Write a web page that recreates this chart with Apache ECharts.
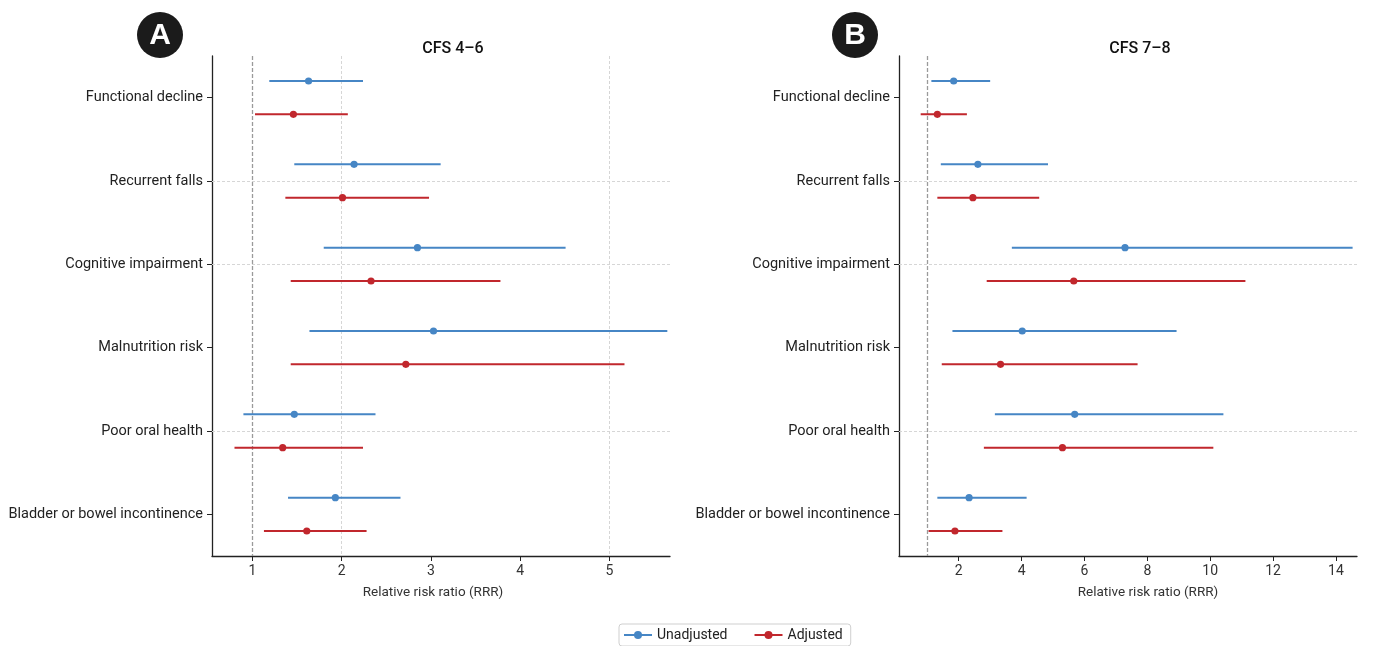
<!DOCTYPE html>
<html>
<head>
<meta charset="utf-8">
<script src="https://cdn.jsdelivr.net/npm/echarts@6/dist/echarts.min.js"></script>
<style>
html,body{margin:0;padding:0;background:#fff;}
#chart{width:1379px;height:646px;}
</style>
</head>
<body>
<div id="chart"></div>
<script>
// ---------- data ----------
const categories = ['Functional decline','Recurrent falls','Cognitive impairment','Malnutrition risk','Poor oral health','Bladder or bowel incontinence'];

// Panel A : CFS 4-6  [point, lower, upper]
const A_unadj = [[1.63,1.19,2.24],[2.14,1.47,3.11],[2.85,1.80,4.51],[3.03,1.64,5.65],[1.47,0.90,2.38],[1.93,1.40,2.66]];
const A_adj   = [[1.46,1.03,2.07],[2.01,1.37,2.98],[2.33,1.43,3.78],[2.72,1.43,5.17],[1.34,0.80,2.24],[1.61,1.13,2.28]];
// Panel B : CFS 7-8
const B_unadj = [[1.84,1.13,3.00],[2.61,1.43,4.84],[7.29,3.69,14.53],[4.02,1.80,8.93],[5.69,3.15,10.42],[2.33,1.32,4.16]];
const B_adj   = [[1.32,0.79,2.26],[2.45,1.32,4.56],[5.66,2.89,11.12],[3.33,1.46,7.69],[5.30,2.80,10.10],[1.88,1.04,3.39]];

const A_ticks = [1,2,3,4,5];
const B_ticks = [2,4,6,8,10,12,14];
const A_gridX = [2,5];
const B_gridX = [];
const gridRows = ['Recurrent falls','Cognitive impairment','Poor oral health'];
const refValue = 1;

// ---------- style ----------
const BLUE = '#4686c5';
const RED  = '#c1272d';
const FONT = "Roboto,sans-serif";

const chart = echarts.init(document.getElementById('chart'));

function toRows(arr){ return arr.map((d,i)=>[i,d[1],d[2],d[0]]); }

function ciSeries(name, color, data, axisIdx, shift){
  return {
    type:'custom', name:name, xAxisIndex:axisIdx, yAxisIndex:axisIdx,
    data:toRows(data),
    encode:{x:[1,2,3], y:0},
    z:5,
    renderItem:function(params, api){
      const cat = api.value(0);
      const p1 = api.coord([api.value(1), cat]);
      const p2 = api.coord([api.value(2), cat]);
      const pc = api.coord([api.value(3), cat]);
      const off = api.size([0,1])[1]*shift;
      return {type:'group', children:[
        {type:'line', shape:{x1:p1[0],y1:p1[1]+off,x2:p2[0],y2:p2[1]+off}, style:{stroke:color, lineWidth:2}},
        {type:'circle', shape:{cx:pc[0],cy:pc[1]+off,r:3.6}, style:{fill:color}}
      ]};
    }
  };
}

function legendSeries(name,color){
  return {type:'line', name:name, data:[], xAxisIndex:0, yAxisIndex:0, symbol:'circle', symbolSize:6,
    itemStyle:{color:color}, lineStyle:{color:color, width:2}};
}

function gridSeries(axisIdx, gx){
  const d = [];
  gx.forEach(v=>d.push({xAxis:v}));
  gridRows.forEach(r=>d.push({yAxis:r}));
  return {type:'custom', name:'grid'+axisIdx, xAxisIndex:axisIdx, yAxisIndex:axisIdx, data:[], renderItem:()=>null,
    silent:true, z:1,
    markLine:{silent:true, symbol:'none', label:{show:false}, animation:false,
      lineStyle:{color:'#d6d6d6', type:[3,2], width:1}, data:d}};
}
function refSeries(axisIdx){
  return {type:'custom', name:'ref'+axisIdx, xAxisIndex:axisIdx, yAxisIndex:axisIdx, data:[], renderItem:()=>null,
    silent:true, z:2,
    markLine:{silent:true, symbol:'none', label:{show:false}, animation:false,
      lineStyle:{color:'#9a9a9a', type:[4,2], width:1.3}, data:[{xAxis:refValue}]}};
}

function xAxisCfg(idx, min, max, ticks, namePad){
  return {
    type:'value', gridIndex:idx, min:min, max:max,
    name:'Relative risk ratio (RRR)', nameLocation:'middle', nameGap:30,
    nameTextStyle:{fontFamily:FONT, fontSize:13.5, color:'#333', padding:namePad},
    axisLine:{show:true, onZero:false, lineStyle:{color:'#222', width:1.3}},
    axisTick:{show:true, length:5, lineStyle:{color:'#222'}, customValues:ticks},
    axisLabel:{fontFamily:FONT, fontSize:14, color:'#333', margin:8, customValues:ticks},
    splitLine:{show:false}
  };
}
function yAxisCfg(idx){
  return {
    type:'category', gridIndex:idx, data:categories, inverse:true,
    axisLine:{show:true, lineStyle:{color:'#222', width:1.3}},
    axisTick:{show:true, alignWithLabel:true, length:5, lineStyle:{color:'#222'}},
    axisLabel:{fontFamily:FONT, fontSize:14.5, color:'#222', margin:9},
    splitLine:{show:false}
  };
}

function badge(cx, letter){
  return {type:'group', children:[
    {type:'circle', shape:{cx:cx, cy:35, r:23}, style:{fill:'#1b1b1b'}},
    {type:'text', x:cx, y:36, style:{text:letter, fill:'#fff', stroke:'#1b1b1b', lineWidth:2,
      font:"bold 30px 'Liberation Sans','DejaVu Sans',sans-serif", align:'center', verticalAlign:'middle'}}
  ]};
}

chart.setOption({
  animation:false,
  title:[
    {text:'CFS 4–6', left:448, top:36, textAlign:'center', textStyle:{fontFamily:FONT, fontSize:16, fontWeight:500, color:'#111'}},
    {text:'CFS 7–8', left:1135, top:36, textAlign:'center', textStyle:{fontFamily:FONT, fontSize:16, fontWeight:500, color:'#111'}}
  ],
  legend:{
    data:['Unadjusted','Adjusted'], left:619, top:624, itemWidth:28, itemHeight:10, itemGap:26,
    borderColor:'#cfcfcf', borderWidth:1, borderRadius:3, padding:[4,8,4,4],
    textStyle:{fontFamily:FONT, fontSize:14, color:'#222'}
  },
  grid:[
    {left:212, top:56, width:458, height:500, outerBoundsMode:'none', containLabel:false},
    {left:899, top:56, width:458, height:500, outerBoundsMode:'none', containLabel:false}
  ],
  xAxis:[
    xAxisCfg(0, 0.548, 5.68, A_ticks, [0,16,0,0]),
    xAxisCfg(1, 0.10, 14.67, B_ticks, [0,0,0,40])
  ],
  yAxis:[yAxisCfg(0), yAxisCfg(1)],
  graphic:[badge(160,'A'), badge(855,'B')],
  series:[
    legendSeries('Unadjusted', BLUE),
    legendSeries('Adjusted', RED),
    gridSeries(0, A_gridX), gridSeries(1, B_gridX),
    refSeries(0), refSeries(1),
    ciSeries('Unadjusted', BLUE, A_unadj, 0, -0.2),
    ciSeries('Adjusted', RED, A_adj, 0, 0.2),
    ciSeries('Unadjusted', BLUE, B_unadj, 1, -0.2),
    ciSeries('Adjusted', RED, B_adj, 1, 0.2)
  ]
});
</script>
</body>
</html>
